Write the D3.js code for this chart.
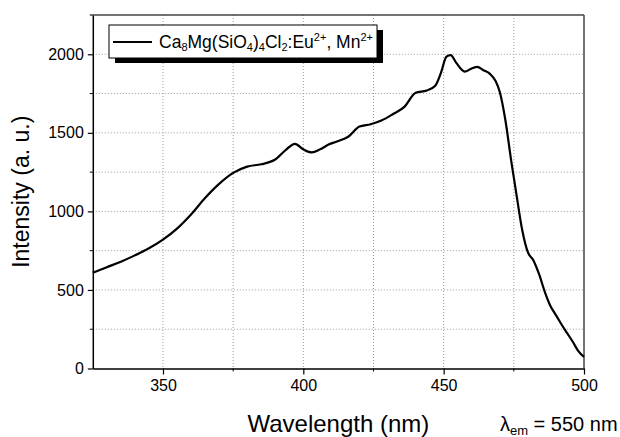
<!DOCTYPE html>
<html>
<head>
<meta charset="utf-8">
<script src="https://cdn.jsdelivr.net/npm/d3@7"></script>
<style>
  body { margin: 0; background: #fff; }
  text { font-family: "Liberation Sans", Arial, sans-serif; fill: #000; }
</style>
</head>
<body>
<div id="chart"></div>
<script>
// excitation spectrum
var wavelength = [325,330,335,340,345,350,355,360,365,370,375,380,385,390,394,397,400,403,406,409,412,416,420,424,428,432,436,440,444,447,449,451,452.5,454.5,457.5,460,462,464,466.5,468.5,470,472,474,476,478,480,482,484,486,488,490,492,494,496,498,500]
var intensity = [610,645,680,720,765,820,890,980,1085,1175,1245,1285,1300,1330,1395,1430,1395,1375,1395,1425,1445,1475,1540,1555,1580,1620,1665,1755,1770,1800,1880,1985,1995,1945,1890,1910,1920,1900,1875,1830,1760,1580,1330,1100,880,740,688,600,490,400,340,280,225,170,110,73]

var xTicks = [350, 400, 450, 500]
var xMinor = [325, 375, 425, 475]
var yTicks = [0, 500, 1000, 1500, 2000]
var yMinor = [250, 750, 1250, 1750]

var margin = {top: 15, right: 36, bottom: 68.5, left: 92.8},
    width = 620 - margin.left - margin.right,
    height = 437 - margin.top - margin.bottom;

var x = d3.scaleLinear().domain([325, 500]).range([0, width])
var y = d3.scaleLinear().domain([0, 2250]).range([height, 0])

var svg = d3.select("#chart")
    .append("svg")
        .attr("width", 620)
        .attr("height", 437)
    .append("g")
        .attr("transform", "translate(" + margin.left + "," + margin.top + ")");

// dotted grid
var grid = svg.append("g")
    .attr("stroke", "#9a9a9a")
    .attr("stroke-width", 1)
    .attr("stroke-dasharray", "1,2")
grid.selectAll(".vg").data(xTicks.concat(xMinor).filter(d => d > 325 && d < 500))
    .enter().append("line")
    .attr("x1", d => x(d)).attr("x2", d => x(d))
    .attr("y1", 0).attr("y2", height)
grid.selectAll(".hg").data(yTicks.concat(yMinor).filter(d => d > 0))
    .enter().append("line")
    .attr("x1", 0).attr("x2", width)
    .attr("y1", d => y(d)).attr("y2", d => y(d))

// frame top / right
svg.append("line").attr("x1", -3).attr("x2", width).attr("y1", 0).attr("y2", 0)
    .attr("stroke", "#444").attr("stroke-width", 1.5)
svg.append("line").attr("x1", width).attr("x2", width).attr("y1", 0).attr("y2", height)
    .attr("stroke", "#444").attr("stroke-width", 1.5)

// axes
var xAxis = svg.append("g")
    .attr("transform", "translate(0," + height + ")")
    .call(d3.axisBottom(x).tickValues(xTicks).tickFormat(d3.format("d"))
        .tickSize(6).tickPadding(5).tickSizeOuter(0))
xAxis.append("g").selectAll("line").data(xMinor.filter(d => d > 325))
    .enter().append("line")
    .attr("x1", d => x(d)).attr("x2", d => x(d))
    .attr("y1", 0).attr("y2", 3).attr("stroke", "#000")

var yAxis = svg.append("g")
    .call(d3.axisLeft(y).tickValues(yTicks).tickFormat(d3.format("d"))
        .tickSize(5).tickPadding(4).tickSizeOuter(0))
yAxis.append("g").selectAll("line").data(yMinor)
    .enter().append("line")
    .attr("x1", 0).attr("x2", -3)
    .attr("y1", d => y(d)).attr("y2", d => y(d)).attr("stroke", "#000")

svg.selectAll(".domain").attr("stroke", "#000").attr("stroke-width", 1.5)
svg.selectAll(".tick line").attr("stroke-width", 1.2)
svg.selectAll(".tick text")
    .style("font-family", "'Liberation Sans', Arial, sans-serif")
    .style("font-size", "16px")
    .attr("fill", "#000")

// curve
var line = d3.line()
    .x((d, i) => x(wavelength[i]))
    .y(d => y(d))
    .curve(d3.curveMonotoneX)

svg.append("path")
    .datum(intensity)
    .attr("fill", "none")
    .attr("stroke", "#000")
    .attr("stroke-width", 2.2)
    .attr("d", line)

// legend with drop shadow
var lg = svg.append("g").attr("transform", "translate(" + (109 - margin.left) + "," + (25 - margin.top) + ")")
lg.append("rect").attr("x", 6).attr("y", 5).attr("width", 268).attr("height", 33).attr("fill", "#000")
lg.append("rect").attr("x", 0).attr("y", 0).attr("width", 268).attr("height", 33)
    .attr("fill", "#fff").attr("stroke", "#000").attr("stroke-width", 1)
lg.append("line").attr("x1", 4).attr("x2", 43).attr("y1", 17).attr("y2", 17)
    .attr("stroke", "#000").attr("stroke-width", 2.2)
var lt = lg.append("text").attr("x", 50).attr("y", 23).style("font-size", "17.5px")
lt.append("tspan").text("Ca")
lt.append("tspan").attr("dy", 3).style("font-size", "11px").text("8")
lt.append("tspan").attr("dy", -3).text("Mg(SiO")
lt.append("tspan").attr("dy", 3).style("font-size", "11px").text("4")
lt.append("tspan").attr("dy", -3).text(")")
lt.append("tspan").attr("dy", 3).style("font-size", "11px").text("4")
lt.append("tspan").attr("dy", -3).text("Cl")
lt.append("tspan").attr("dy", 3).style("font-size", "11px").text("2")
lt.append("tspan").attr("dy", -3).text(":Eu")
lt.append("tspan").attr("dy", -7).style("font-size", "11px").text("2+")
lt.append("tspan").attr("dy", 7).text(", Mn")
lt.append("tspan").attr("dy", -7).style("font-size", "11px").text("2+")

// axis titles
svg.append("text")
    .attr("x", width / 2).attr("y", height + 63)
    .attr("text-anchor", "middle")
    .style("font-size", "24px")
    .text("Wavelength (nm)")

svg.append("text")
    .attr("transform", "translate(" + (-64) + "," + (height / 2) + ") rotate(-90)")
    .attr("text-anchor", "middle")
    .style("font-size", "23px")
    .text("Intensity (a. u.)")

var lam = svg.append("text")
    .attr("x", 500 - margin.left).attr("y", height + 62)
    .style("font-size", "20px")
lam.append("tspan").text("λ")
lam.append("tspan").attr("dy", 4).style("font-size", "13px").text("em")
lam.append("tspan").attr("dy", -4).text(" = 550 nm")
</script>
</body>
</html>
